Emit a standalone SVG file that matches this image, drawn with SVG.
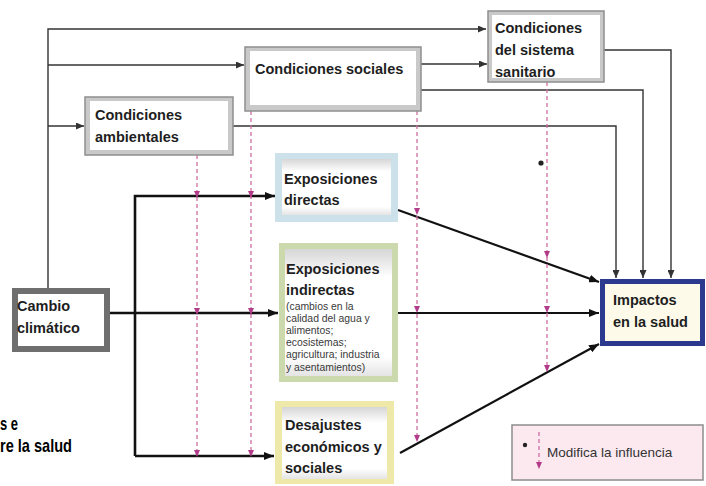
<svg xmlns="http://www.w3.org/2000/svg" width="706" height="486" viewBox="0 0 706 486">
  <style>
    .lbl { font-family: "Liberation Sans", Arial, sans-serif; font-weight: bold; font-size: 14.5px; fill: #1e1e1e; }
    .small { font-family: "Liberation Sans", Arial, sans-serif; font-size: 10.4px; fill: #3a3a3a; }
    .side { font-family: "Liberation Sans", Arial, sans-serif; font-weight: bold; font-size: 19px; fill: #000; }
    .legend { font-family: "Liberation Sans", Arial, sans-serif; font-size: 13.5px; fill: #333; }
    .thin { fill: none; stroke: #333; stroke-width: 1.4; }
    .thick { fill: none; stroke: #111; stroke-width: 2.6; }
    .mid { fill: none; stroke: #111; stroke-width: 2.2; }
    .mod { fill: none; stroke: #cf6fa0; stroke-width: 1.3; stroke-dasharray: 4 3; }
    .condOuter { fill: #c9c9c9; stroke: #8e8e8e; stroke-width: 1.5; }
    .inner { fill: #ffffff; }
  </style>
  <defs>
    <marker id="arrThin" markerUnits="userSpaceOnUse" markerWidth="8" markerHeight="7" refX="8" refY="3.5" orient="auto">
      <path d="M0,0 L8,3.5 L0,7 z" fill="#333"/>
    </marker>
    <marker id="arrThick" markerUnits="userSpaceOnUse" markerWidth="10" markerHeight="8" refX="10" refY="4" orient="auto">
      <path d="M0,0 L10,4 L0,8 z" fill="#111"/>
    </marker>
    <marker id="arrPink" markerUnits="userSpaceOnUse" markerWidth="7" markerHeight="6" refX="5" refY="3" orient="auto">
      <path d="M0,0 L7,3 L0,6 z" fill="#b23c8a"/>
    </marker>
    <linearGradient id="topShade" x1="0" y1="0" x2="0" y2="1">
      <stop offset="0" stop-color="#d6d6d6"/>
      <stop offset="0.22" stop-color="#ffffff"/>
      <stop offset="0.85" stop-color="#ffffff"/>
      <stop offset="1" stop-color="#e4e4e4"/>
    </linearGradient>
  </defs>

  <!-- connectors -->
  <g id="connectors">
    <!-- climate change to the three conditions -->
    <path class="thin" d="M48,288 V29 H486" marker-end="url(#arrThin)"/>
    <path class="thin" d="M48,65 H244" marker-end="url(#arrThin)"/>
    <path class="thin" d="M48,126 H84" marker-end="url(#arrThin)"/>
    <path class="thin" d="M421,64 H487" marker-end="url(#arrThin)"/>
    <!-- conditions to health impacts -->
    <path class="thin" d="M604,50 H671 V278" marker-end="url(#arrThin)"/>
    <path class="thin" d="M421,90 H643 V278" marker-end="url(#arrThin)"/>
    <path class="thin" d="M233,126 H616 V278" marker-end="url(#arrThin)"/>
    <!-- climate change to exposures -->
    <path class="thick" d="M110,313 H278" marker-end="url(#arrThick)"/>
    <path class="thick" d="M135,456 V196 H275" marker-end="url(#arrThick)"/>
    <path class="thick" d="M135,456 H274" marker-end="url(#arrThick)"/>
    <!-- exposures to health impacts -->
    <path class="mid" d="M398,210 L599,282" marker-end="url(#arrThick)"/>
    <path class="mid" d="M398,313 H599" marker-end="url(#arrThick)"/>
    <path class="mid" d="M400,453 L599,344" marker-end="url(#arrThick)"/>
    <!-- modifying influences -->
    <path class="mod" d="M197,155 V196 V313 V455" marker-mid="url(#arrPink)" marker-end="url(#arrPink)"/>
    <path class="mod" d="M251,111 V196 V313 V455" marker-mid="url(#arrPink)" marker-end="url(#arrPink)"/>
    <path class="mod" d="M417,111 V213 V311 V440" marker-mid="url(#arrPink)" marker-end="url(#arrPink)"/>
    <path class="mod" d="M547,82 V256 V311 V370" marker-mid="url(#arrPink)" marker-end="url(#arrPink)"/>
    <circle cx="541" cy="163" r="2.6" fill="#222"/>
  </g>

  <!-- nodes -->
  <g id="cond-ambientales">
    <rect class="condOuter" x="85" y="97" width="148" height="58"/>
    <rect class="inner" x="90" y="101" width="138" height="49"/>
    <text class="lbl" x="95" y="120">Condiciones</text>
    <text class="lbl" x="95" y="142">ambientales</text>
  </g>

  <g id="cond-sociales">
    <rect class="condOuter" x="245" y="47" width="176" height="64"/>
    <rect class="inner" x="250" y="51" width="166" height="54"/>
    <text class="lbl" x="255" y="74">Condiciones sociales</text>
  </g>

  <g id="cond-sanitario">
    <rect class="condOuter" x="488" y="11" width="116" height="71"/>
    <rect class="inner" x="492" y="15" width="108" height="63"/>
    <text class="lbl" x="495" y="33">Condiciones</text>
    <text class="lbl" x="495" y="55">del sistema</text>
    <text class="lbl" x="495" y="77">sanitario</text>
  </g>

  <g id="cambio-climatico">
    <rect x="12" y="288" width="98" height="64" fill="#6f6f6f"/>
    <rect class="inner" x="18" y="294" width="86" height="52"/>
    <text class="lbl" x="17" y="311">Cambio</text>
    <text class="lbl" x="17" y="333">climático</text>
  </g>

  <g id="exp-directas">
    <rect x="275" y="153" width="123" height="69" fill="#cde1ea"/>
    <rect x="282" y="159" width="109" height="56" fill="url(#topShade)"/>
    <text class="lbl" x="284" y="184">Exposiciones</text>
    <text class="lbl" x="284" y="205">directas</text>
  </g>

  <g id="exp-indirectas">
    <rect x="279" y="243" width="119" height="139" fill="#ccd9ad"/>
    <rect x="285" y="249" width="107" height="127" fill="url(#topShade)"/>
    <text class="lbl" x="286" y="274">Exposiciones</text>
    <text class="lbl" x="286" y="295">indirectas</text>
    <text class="small" x="286" y="310">(cambios en la</text>
    <text class="small" x="286" y="322">calidad del agua y</text>
    <text class="small" x="286" y="334">alimentos;</text>
    <text class="small" x="286" y="346">ecosistemas;</text>
    <text class="small" x="286" y="358">agricultura; industria</text>
    <text class="small" x="286" y="371">y asentamientos)</text>
  </g>

  <g id="desajustes">
    <rect x="275" y="401" width="119" height="83" fill="#eee9a8"/>
    <rect x="282" y="407" width="105" height="72" fill="url(#topShade)"/>
    <text class="lbl" x="285" y="430">Desajustes</text>
    <text class="lbl" x="285" y="452">económicos y</text>
    <text class="lbl" x="285" y="473">sociales</text>
  </g>

  <g id="impactos">
    <rect x="600" y="279" width="105" height="67" fill="#2b3a8f"/>
    <rect x="605" y="284" width="95" height="57" fill="#fdfaea"/>
    <text class="lbl" x="613" y="305">Impactos</text>
    <text class="lbl" x="613" y="327">en la salud</text>
  </g>

  <g id="leyenda">
    <rect x="512" y="425" width="191" height="55" fill="#fce9f0" stroke="#8c8c8c" stroke-width="1.5"/>
    <circle cx="525" cy="445" r="2.2" fill="#222"/>
    <path class="mod" d="M539,432 V467" marker-end="url(#arrPink)"/>
    <text class="legend" x="547" y="457">Modifica la influencia</text>
  </g>

  <!-- caption fragment at the left edge -->
  <g id="caption">
    <text class="side" x="0" y="430" textLength="18" lengthAdjust="spacingAndGlyphs">s e</text>
    <text class="side" x="0" y="452" textLength="72" lengthAdjust="spacingAndGlyphs">re la salud</text>
  </g>
</svg>
